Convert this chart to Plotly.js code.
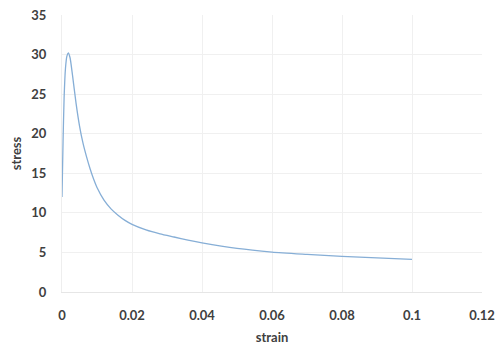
<!DOCTYPE html>
<html>
<head>
<meta charset="utf-8">
<script src="https://cdn.plot.ly/plotly-3.0.1.min.js"></script>
<style>html,body{margin:0;padding:0;background:#fff;}#chart{width:497px;height:346px;}</style>
</head>
<body>
<div id="chart"></div>
<script>
var strain = [0, 0.0003, 0.0006, 0.001, 0.0014, 0.0018, 0.0023, 0.003, 0.004, 0.005, 0.006, 0.007, 0.008, 0.009, 0.01, 0.012, 0.014, 0.016, 0.018, 0.02, 0.024, 0.028, 0.032, 0.036, 0.04, 0.05, 0.06, 0.07, 0.08, 0.09, 0.1];
var stress = [12, 19, 24.5, 28.3, 29.8, 30.2, 29.6, 27.4, 23.9, 21.0, 18.8, 17.1, 15.6, 14.3, 13.2, 11.6, 10.5, 9.7, 9.05, 8.55, 7.85, 7.35, 6.95, 6.55, 6.2, 5.5, 5.05, 4.76, 4.5, 4.3, 4.12];
var xTicks = [0, 0.02, 0.04, 0.06, 0.08, 0.1, 0.12];
var xTickLabels = ['0', '0.02', '0.04', '0.06', '0.08', '0.1', '0.12'];
var yTicks = [0, 5, 10, 15, 20, 25, 30, 35];

var font = {family: 'Lato, "Open Sans", sans-serif', size: 13, color: '#404040', weight: 'bold'};

Plotly.newPlot('chart', [{
  x: strain, y: stress, type: 'scatter', mode: 'lines',
  line: {color: '#86aed6', width: 1.3, shape: 'spline', smoothing: 0.6},
  hoverinfo: 'none'
}], {
  width: 497, height: 346,
  margin: {l: 62, r: 15, t: 15, b: 54},
  paper_bgcolor: '#fff', plot_bgcolor: '#fff',
  showlegend: false,
  font: font,
  xaxis: {
    range: [0, 0.12], tickvals: xTicks, ticktext: xTickLabels,
    showgrid: true, gridcolor: '#f0f0f0', gridwidth: 1,
    zeroline: false, showline: true, linecolor: '#e6e6e6', linewidth: 1,
    ticks: '', ticklen: 0, tickfont: font, ticklabelstandoff: 11,
    title: {text: 'strain', font: font, standoff: 11}
  },
  yaxis: {
    range: [0, 35], tickvals: yTicks,
    showgrid: true, gridcolor: '#f0f0f0', gridwidth: 1,
    zeroline: false, showline: true, linecolor: '#eeeeee', linewidth: 1,
    ticks: '', tickfont: font, ticklabelstandoff: 12,
    title: {text: 'stress', font: font, standoff: 6}
  }
}, {staticPlot: true});
</script>
</body>
</html>
